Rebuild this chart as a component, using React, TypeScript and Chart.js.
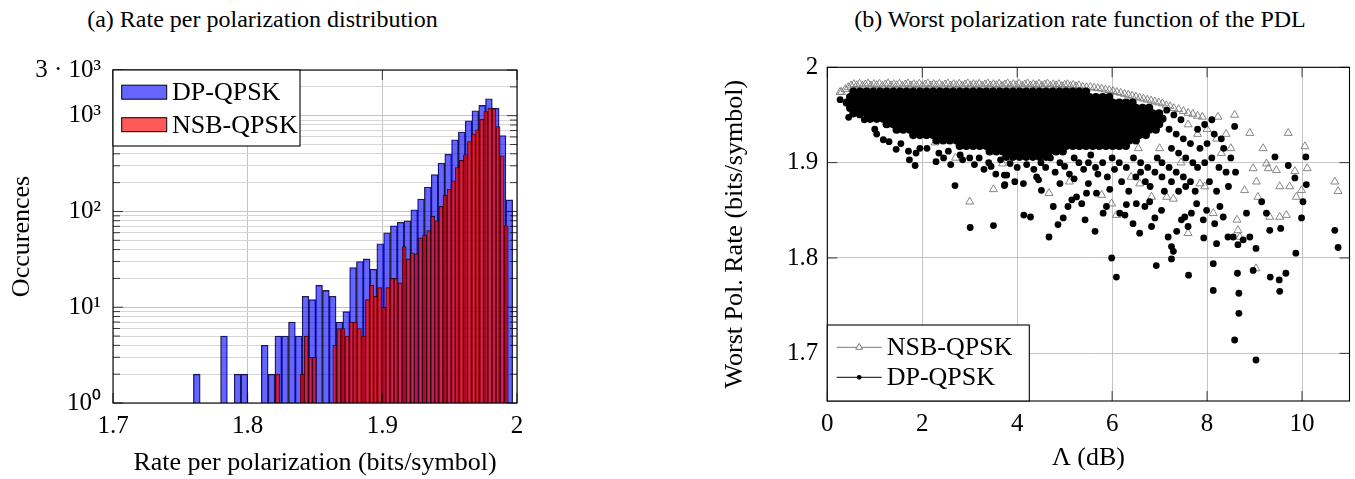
import React, { useEffect, useRef } from "react";
import { Chart, registerables } from "chart.js";

Chart.register(...registerables);

const SERIF = "'Liberation Serif', 'Times New Roman', Times, serif";

// ---------------- (a) histogram data ----------------
const HIST_TITLE = "(a) Rate per polarization distribution";
const HIST_X_TITLE = "Rate per polarization (bits/symbol)";
const HIST_Y_TITLE = "Occurences";
const HIST_X_TICKS = [1.7, 1.8, 1.9, 2];
const HIST_X_LABELS = ["1.7", "1.8", "1.9", "2"];
const HIST_Y_MAJOR = [1, 10, 100, 1000, 3000];
const HIST_Y_LABELS = ["10⁰", "10¹", "10²", "10³", "3 · 10³"];
const HIST_Y_MINOR = [2, 3, 4, 5, 6, 7, 8, 9, 20, 30, 40, 50, 60, 70, 80, 90, 200, 300, 400, 500, 600, 700, 800, 900, 2000];

const DP_NAME = "DP-QPSK";
const NSB_NAME = "NSB-QPSK";

const DP_BIN_START = 1.7597;
const DP_BIN_WIDTH = 0.005045;
const DP_COUNTS = [2, null, null, null, 5, null, 2, 2, null, null, 4, 2, 5, 5, 7, 5, 13, 12, 17, 15, 13, 7, 9, 26, 30, 32, 25, 46, 60, 71, 77, 80, 104, 135, 180, 243, 320, 397, 560, 675, 885, 1125, 1280, 1500, 1200, 621, 132];

const NSB_BIN_START = 1.8208;
const NSB_BIN_WIDTH = 0.00303;
const NSB_COUNTS = [2, null, null, null, null, null, 2, 5, 3, 3, null, null, null, null, 4, 6, 6, 5, 7, 7, 6, 5, 12, 17, 13, 16, 10, 16, 20, 20, 18, 43, 32, 37, 36, 53, 57, 63, 89, 80, 113, 148, 171, 209, 288, 341, 391, 538, 643, 713, 921, 1106, 1200, 1180, 771, 381, 71];

// ---------------- (b) scatter data ----------------
const SC_TITLE = "(b) Worst polarization rate function of the PDL";
const SC_X_TITLE = "Λ (dB)";
const SC_Y_TITLE = "Worst Pol. Rate (bits/symbol)";
const SC_X_TICKS = [0, 2, 4, 6, 8, 10];
const SC_X_LABELS = ["0", "2", "4", "6", "8", "10"];
const SC_Y_TICKS = [1.7, 1.8, 1.9, 2];
const SC_Y_LABELS = ["1.7", "1.8", "1.9", "2"];

// dense core of DP-QPSK points, one row per rate level
const DP_CORE_Y = [1.9745, 1.9688, 1.9631, 1.9574, 1.9517, 1.946, 1.9403, 1.9346, 1.9289, 1.9232, 1.9175, 1.9118, 1.9061];
const DP_CORE_X = [
  [0.55, 0.69, 0.83, 0.97, 1.11, 1.25, 1.39, 1.53, 1.67, 1.81, 1.95, 2.09, 2.23, 2.37, 2.51, 2.65, 2.79, 2.93, 3.07, 3.21, 3.35, 3.49, 3.63, 3.77, 3.91, 4.05, 4.19, 4.33, 4.47, 4.61, 4.75, 4.89, 5.03, 5.17, 5.31, 5.45],
  [0.48, 0.62, 0.76, 0.9, 1.04, 1.18, 1.32, 1.46, 1.6, 1.74, 1.88, 2.02, 2.16, 2.3, 2.44, 2.58, 2.72, 2.86, 3, 3.14, 3.28, 3.42, 3.56, 3.7, 3.84, 3.98, 4.12, 4.26, 4.4, 4.54, 4.68, 4.82, 4.96, 5.1, 5.24, 5.38, 5.52, 5.66, 5.8, 5.94],
  [0.41, 0.55, 0.69, 0.83, 0.97, 1.11, 1.25, 1.39, 1.53, 1.67, 1.81, 1.95, 2.09, 2.23, 2.37, 2.51, 2.65, 2.79, 2.93, 3.07, 3.21, 3.35, 3.49, 3.63, 3.77, 3.91, 4.05, 4.19, 4.33, 4.47, 4.61, 4.75, 4.89, 5.03, 5.17, 5.31, 5.45, 5.59, 5.73, 5.87, 6.01, 6.15, 6.29, 6.43],
  [0.48, 0.62, 0.76, 0.9, 1.04, 1.18, 1.32, 1.46, 1.6, 1.74, 1.88, 2.02, 2.16, 2.3, 2.44, 2.58, 2.72, 2.86, 3, 3.14, 3.28, 3.42, 3.56, 3.7, 3.84, 3.98, 4.12, 4.26, 4.4, 4.54, 4.68, 4.82, 4.96, 5.1, 5.24, 5.38, 5.52, 5.66, 5.8, 5.94, 6.08, 6.22, 6.36, 6.5, 6.64, 6.78],
  [0.55, 0.69, 0.83, 0.97, 1.11, 1.25, 1.39, 1.53, 1.67, 1.81, 1.95, 2.09, 2.23, 2.37, 2.51, 2.65, 2.79, 2.93, 3.07, 3.21, 3.35, 3.49, 3.63, 3.77, 3.91, 4.05, 4.19, 4.33, 4.47, 4.61, 4.75, 4.89, 5.03, 5.17, 5.31, 5.45, 5.59, 5.73, 5.87, 6.01, 6.15, 6.29, 6.43, 6.57, 6.71, 6.85, 6.99],
  [0.9, 1.04, 1.18, 1.32, 1.46, 1.6, 1.74, 1.88, 2.02, 2.16, 2.3, 2.44, 2.58, 2.72, 2.86, 3, 3.14, 3.28, 3.42, 3.56, 3.7, 3.84, 3.98, 4.12, 4.26, 4.4, 4.54, 4.68, 4.82, 4.96, 5.1, 5.24, 5.38, 5.52, 5.66, 5.8, 5.94, 6.08, 6.22, 6.36, 6.5, 6.64, 6.78, 6.92, 7.06],
  [1.25, 1.39, 1.53, 1.67, 1.81, 1.95, 2.09, 2.23, 2.37, 2.51, 2.65, 2.79, 2.93, 3.07, 3.21, 3.35, 3.49, 3.63, 3.77, 3.91, 4.05, 4.19, 4.33, 4.47, 4.61, 4.75, 4.89, 5.03, 5.17, 5.31, 5.45, 5.59, 5.73, 5.87, 6.01, 6.15, 6.29, 6.43, 6.57, 6.71, 6.85, 6.99],
  [1.46, 1.6, 1.74, 1.88, 2.02, 2.16, 2.3, 2.44, 2.58, 2.72, 2.86, 3, 3.14, 3.28, 3.42, 3.56, 3.7, 3.84, 3.98, 4.12, 4.26, 4.4, 4.54, 4.68, 4.82, 4.96, 5.1, 5.24, 5.38, 5.52, 5.66, 5.8, 5.94, 6.08, 6.22, 6.36, 6.5, 6.64, 6.78, 6.92],
  [1.81, 1.95, 2.09, 2.23, 2.37, 2.51, 2.65, 2.79, 2.93, 3.07, 3.21, 3.35, 3.49, 3.63, 3.77, 3.91, 4.05, 4.19, 4.33, 4.47, 4.61, 4.75, 4.89, 5.03, 5.17, 5.31, 5.45, 5.59, 5.73, 5.87, 6.01, 6.15, 6.29, 6.43, 6.57, 6.71],
  [2.3, 2.44, 2.58, 2.72, 2.86, 3, 3.14, 3.28, 3.42, 3.56, 3.7, 3.84, 3.98, 4.12, 4.26, 4.4, 4.54, 4.68, 4.82, 4.96, 5.1, 5.24, 5.38, 5.52, 5.66, 5.8, 5.94, 6.08, 6.22, 6.36, 6.5],
  [2.79, 2.93, 3.07, 3.21, 3.35, 3.49, 3.63, 3.77, 3.91, 4.05, 4.19, 4.33, 4.47, 4.61, 4.75, 4.89, 5.03, 5.17, 5.31, 5.45, 5.59, 5.73, 5.87, 6.01, 6.15, 6.29],
  [3.42, 3.56, 3.7, 3.84, 3.98, 4.12, 4.26, 4.4, 4.54, 4.68, 4.82, 4.96],
  [3.77, 3.91, 4.05, 4.19, 4.33, 4.47, 4.61],
];

// scattered DP-QPSK points
const DP_SPARSE = [
  [0.27, 1.966], [0.45, 1.9475], [0.68, 1.95], [0.78, 1.945], [1.04, 1.93], [1.18, 1.924], [1.45, 1.914], [1.71, 1.912],
  [1.87, 1.91], [1.73, 1.903], [1.85, 1.897], [2.29, 1.901], [2.69, 1.876], [3.01, 1.832], [3.5, 1.834], [3.73, 1.887],
  [3.73, 1.876], [2.45, 1.905], [2.85, 1.903], [3.1, 1.898], [3.3, 1.893], [3.45, 1.896],
  [3.78, 1.887], [3.95, 1.88], [3.74, 1.877], [4.13, 1.878], [4.14, 1.845], [4.28, 1.843], [4.41, 1.885], [4.51, 1.871],
  [4.67, 1.822], [4.76, 1.854], [4.86, 1.835], [4.97, 1.842], [5.07, 1.854], [5.15, 1.861], [5.25, 1.864], [5.36, 1.857],
  [5.43, 1.84], [5.46, 1.868], [5.64, 1.828], [5.67, 1.868], [5.81, 1.847], [5.88, 1.854], [5.99, 1.8], [6.09, 1.78],
  [6.16, 1.847], [6.27, 1.845], [6.3, 1.856], [6.44, 1.836], [6.51, 1.857], [6.58, 1.826], [6.69, 1.854], [6.79, 1.859],
  [6.83, 1.833], [6.9, 1.842], [6.93, 1.792], [7.04, 1.85], [7.18, 1.822], [7.25, 1.812], [7.29, 1.807], [7.25, 1.799],
  [7.36, 1.828], [7.46, 1.84], [7.53, 1.843], [7.6, 1.833], [7.61, 1.782], [7.67, 1.847], [7.78, 1.857], [7.92, 1.84],
  [7.93, 1.821], [7.99, 1.85], [8.13, 1.766], [8.13, 1.794], [8.16, 1.836], [8.2, 1.815], [8.27, 1.854], [8.34, 1.843],
  [8.44, 1.822], [8.55, 1.822], [8.58, 1.938], [8.64, 1.784], [8.65, 1.814], [8.67, 1.763], [8.67, 1.742], [8.58, 1.714],
  [8.76, 1.819], [8.83, 1.847], [8.9, 1.822], [8.97, 1.787], [9.03, 1.81], [9.03, 1.693], [9.15, 1.859], [9.25, 1.847],
  [9.32, 1.829], [9.33, 1.78], [9.43, 1.906], [9.52, 1.777], [9.53, 1.765], [9.55, 1.831], [9.66, 1.784], [9.71, 1.897],
  [9.85, 1.884], [9.87, 1.805], [9.99, 1.842], [10.02, 1.859], [10.08, 1.906], [10.09, 1.877], [10.69, 1.829], [10.76, 1.811],
  [7.15, 1.955], [7.3, 1.95], [7.45, 1.945], [7.2, 1.935], [7.35, 1.93], [7.5, 1.925], [7.65, 1.92], [7.25, 1.915],
  [7.4, 1.91], [7.55, 1.905], [7.7, 1.9], [7.85, 1.915], [8.0, 1.92], [8.15, 1.93], [8.3, 1.925], [7.8, 1.935], [7.95, 1.94], [8.1, 1.945],
  [6.0, 1.905], [6.15, 1.9], [6.3, 1.895], [6.45, 1.905], [6.6, 1.9], [6.75, 1.895], [6.9, 1.89], [7.05, 1.9],
  [7.2, 1.895], [7.35, 1.89], [7.5, 1.885], [7.65, 1.88], [7.8, 1.895], [7.95, 1.9], [8.1, 1.905], [8.25, 1.895], [8.4, 1.89],
  [5.5, 1.9], [5.65, 1.895], [5.2, 1.905], [4.9, 1.9], [4.6, 1.895], [5.9, 1.885], [6.2, 1.88], [6.5, 1.885], [6.8, 1.875], [7.1, 1.87],
  [3.65, 1.903], [3.85, 1.899], [4.0, 1.895], [4.2, 1.898], [4.35, 1.893], [4.5, 1.9], [4.7, 1.905], [4.8, 1.89],
  [5.0, 1.896], [5.1, 1.888], [5.3, 1.9], [5.4, 1.893], [5.55, 1.908], [5.7, 1.888], [5.8, 1.9], [6.05, 1.893],
  [4.45, 1.882], [4.9, 1.878], [5.2, 1.883], [5.5, 1.878], [5.95, 1.872], [6.35, 1.87], [6.6, 1.89], [6.7, 1.88],
  [6.95, 1.905], [7.05, 1.885], [7.25, 1.88], [7.4, 1.87], [7.55, 1.875], [7.75, 1.87], [8.05, 1.88], [8.2, 1.87],
  [8.45, 1.875], [8.5, 1.905], [8.35, 1.915], [8.6, 1.89],
  [2.1, 1.915], [2.35, 1.91], [2.55, 1.912], [2.8, 1.908], [3.0, 1.905], [3.2, 1.905], [3.4, 1.9], [2.6, 1.898],
  [3.55, 1.888], [1.3, 1.922], [1.55, 1.92], [1.95, 1.915], [1.0, 1.935],
];

// NSB-QPSK points (upper edge of the cloud and scattered points)
const NSB_EDGE = [
  [0.5, 1.9808], [0.56, 1.9822], [0.62, 1.9811], [0.68, 1.9826], [0.74, 1.9805], [0.8, 1.9819], [0.86, 1.983], [0.92, 1.9808],
  [0.98, 1.9822], [1.04, 1.9811], [1.1, 1.9826], [1.16, 1.9805], [1.22, 1.9819], [1.28, 1.983], [1.34, 1.9808], [1.4, 1.9822],
  [1.46, 1.9811], [1.52, 1.9826], [1.58, 1.9805], [1.64, 1.9819], [1.7, 1.983], [1.76, 1.9808], [1.82, 1.9822], [1.88, 1.9811],
  [1.94, 1.9826], [2.0, 1.9805], [2.06, 1.9819], [2.12, 1.983], [2.18, 1.9808], [2.24, 1.9822], [2.3, 1.9811], [2.36, 1.9826],
  [2.42, 1.9805], [2.48, 1.9819], [2.54, 1.983], [2.6, 1.9808], [2.66, 1.9822], [2.72, 1.9811], [2.78, 1.9826], [2.84, 1.9805],
  [2.9, 1.9819], [2.96, 1.983], [3.02, 1.9808], [3.08, 1.9822], [3.14, 1.9811], [3.2, 1.9826], [3.26, 1.9805], [3.32, 1.9819],
  [3.38, 1.983], [3.44, 1.9808], [3.5, 1.9822], [3.56, 1.9811], [3.62, 1.9826], [3.68, 1.9805], [3.74, 1.9819], [3.8, 1.983],
  [3.86, 1.9808], [3.92, 1.9822], [3.98, 1.9811], [4.04, 1.9826], [4.1, 1.9805], [4.16, 1.9819], [4.22, 1.983], [4.28, 1.9808],
  [4.34, 1.9822], [4.4, 1.9811], [4.46, 1.9826], [4.52, 1.9805], [4.58, 1.9819], [4.64, 1.9828], [4.7, 1.9806], [4.76, 1.982],
  [4.82, 1.9809], [4.88, 1.9822], [4.94, 1.9803], [5.0, 1.9815], [5.06, 1.9822], [5.12, 1.9802], [5.18, 1.9814], [5.24, 1.98],
  [5.3, 1.981], [5.38, 1.9795], [5.46, 1.979], [5.54, 1.9792], [5.62, 1.9785], [5.7, 1.978], [5.78, 1.9775], [5.86, 1.9765],
  [5.94, 1.976], [6.02, 1.975], [6.1, 1.974], [6.18, 1.973], [6.26, 1.972], [6.34, 1.971], [6.42, 1.97], [6.5, 1.969],
  [6.58, 1.968], [6.66, 1.967], [6.74, 1.966], [6.82, 1.965], [6.9, 1.964], [6.98, 1.963], [7.06, 1.962], [7.14, 1.96],
  [7.22, 1.959], [7.3, 1.957], [7.4, 1.956], [7.5, 1.954], [7.6, 1.952], [7.7, 1.951], [7.8, 1.949], [7.9, 1.948],
  [0.3, 1.974], [0.38, 1.977], [0.44, 1.979],
];
const NSB_SPARSE = [
  [0.27, 1.974], [0.43, 1.962], [3.0, 1.859], [3.5, 1.872], [2.7, 1.905], [2.27, 1.921], [3.69, 1.899],
  [4.67, 1.868], [5.1, 1.88], [5.78, 1.866], [5.99, 1.857], [6.09, 1.845], [6.58, 1.878], [6.83, 1.864], [7.15, 1.864],
  [7.29, 1.862], [7.6, 1.826], [7.85, 1.878], [7.95, 1.875], [8.13, 1.847], [8.23, 1.948], [8.58, 1.95], [8.63, 1.84],
  [8.65, 1.829], [8.69, 1.822], [8.79, 1.871], [8.9, 1.931], [8.97, 1.894], [9.04, 1.88], [9.07, 1.864], [9.18, 1.915],
  [9.25, 1.899], [9.29, 1.894], [9.32, 1.843], [9.46, 1.892], [9.53, 1.875], [9.53, 1.843], [9.67, 1.845], [9.71, 1.931],
  [9.74, 1.875], [9.85, 1.891], [9.88, 1.864], [9.99, 1.871], [10.06, 1.917], [10.11, 1.894], [10.69, 1.88], [10.76, 1.87],
  [9.03, 1.789], [7.6, 1.94], [7.8, 1.93], [8.0, 1.935], [8.2, 1.925], [8.4, 1.93], [8.5, 1.915], [8.3, 1.91],
  [6.55, 1.915], [7.0, 1.915], [7.45, 1.9], [6.4, 1.885],
];

// ---------------- layout ----------------
const A_W = 540, A_H = 479;
const A_AREA = { left: 113, top: 70, right: 517, bottom: 403 };
const B_LEFT = 700, B_W = 655, B_H = 479;
const B_AREA = { left: 127.3, top: 67.3, right: 650, bottom: 401 };

const GRID_MAJOR = "#c4c4c4";
const GRID_MINOR = "#d6d6d6";

const frameTicks = {
  id: "frameTicks",
  afterDatasetsDraw(chart: any, _a: any, o: any) {
    const { ctx, chartArea: a } = chart;
    const xs = chart.scales.x, ys = chart.scales.y;
    ctx.save();
    ctx.strokeStyle = "rgba(0,0,0,0.75)";
    ctx.lineWidth = 1;
    const seg = (x1: number, y1: number, x2: number, y2: number) => {
      ctx.beginPath(); ctx.moveTo(x1, y1); ctx.lineTo(x2, y2); ctx.stroke();
    };
    const vx = (vals: number[], len: number) => vals.forEach((v) => {
      const p = xs.getPixelForValue(v);
      seg(p, a.bottom, p, a.bottom - len); seg(p, a.top, p, a.top + len);
    });
    const vy = (vals: number[], len: number) => vals.forEach((v) => {
      const p = ys.getPixelForValue(v);
      seg(a.left, p, a.left + len, p); seg(a.right, p, a.right - len, p);
    });
    vx(o.xMajor || [], o.majorLen); vy(o.yMajor || [], o.majorLen); vy(o.yMinor || [], o.minorLen);
    ctx.strokeStyle = "#000";
    ctx.lineWidth = 1.1;
    ctx.strokeRect(a.left, a.top, a.right - a.left, a.bottom - a.top);
    ctx.restore();
  },
};

const boxLegend = {
  id: "boxLegend",
  afterDraw(chart: any, _a: any, o: any) {
    const { ctx, chartArea: a } = chart;
    const x0 = a.left;
    const y0 = o.anchor === "top" ? a.top : a.bottom - o.height;
    ctx.save();
    ctx.fillStyle = "#fff";
    ctx.fillRect(x0, y0, o.width, o.height);
    ctx.strokeStyle = "#000";
    ctx.lineWidth = 1.1;
    ctx.strokeRect(x0, y0, o.width, o.height);
    ctx.font = `${o.fontSize}px ${SERIF}`;
    ctx.textBaseline = "middle";
    ctx.textAlign = "left";
    o.items.forEach((it: any, i: number) => {
      const cy = y0 + o.rowY[i];
      if (it.kind === "bar") {
        ctx.fillStyle = it.fill;
        ctx.fillRect(x0 + o.symX, cy - o.symH / 2, o.symW, o.symH);
        ctx.strokeStyle = "#000";
        ctx.lineWidth = 1;
        ctx.strokeRect(x0 + o.symX, cy - o.symH / 2, o.symW, o.symH);
      } else {
        ctx.strokeStyle = it.color;
        ctx.lineWidth = 1;
        ctx.beginPath(); ctx.moveTo(x0 + o.symX, cy); ctx.lineTo(x0 + o.symX + o.symW, cy); ctx.stroke();
        const mx = x0 + o.symX + o.symW / 2;
        if (it.kind === "triangle") {
          const r = it.r;
          ctx.fillStyle = "#fff";
          ctx.beginPath();
          ctx.moveTo(mx, cy - r);
          ctx.lineTo(mx + r * 0.866, cy + r / 2);
          ctx.lineTo(mx - r * 0.866, cy + r / 2);
          ctx.closePath(); ctx.fill(); ctx.stroke();
        } else {
          ctx.fillStyle = it.color;
          ctx.beginPath(); ctx.arc(mx, cy, it.r, 0, Math.PI * 2); ctx.fill();
        }
      }
      ctx.fillStyle = "#000";
      ctx.fillText(it.label, x0 + o.textX, cy + 1);
    });
    ctx.restore();
  },
};

const tickFont = { family: SERIF, size: 25 };
const titleFont = { family: SERIF, size: 26 };

function HistogramChart() {
  const ref = useRef<HTMLCanvasElement>(null);
  useEffect(() => {
    const pxPerUnit = (A_AREA.right - A_AREA.left) / (2.0 - 1.7);
    const dpData = DP_COUNTS.map((c, i) => ({ x: DP_BIN_START + (i + 0.5) * DP_BIN_WIDTH, y: c }));
    const nsbData = NSB_COUNTS.map((c, i) => ({ x: NSB_BIN_START + (i + 0.5) * NSB_BIN_WIDTH, y: c }));
    const allY = [...HIST_Y_MAJOR, ...HIST_Y_MINOR].sort((p, q) => p - q);
    const chart = new Chart(ref.current as HTMLCanvasElement, {
      type: "bar",
      data: {
        datasets: [
          {
            label: NSB_NAME, data: nsbData as any, backgroundColor: "rgba(255,0,0,0.65)",
            borderColor: "rgba(0,0,0,0.85)", borderWidth: 0.7, barThickness: NSB_BIN_WIDTH * pxPerUnit,
            grouped: false, borderSkipped: "start",
          } as any,
          {
            label: DP_NAME, data: dpData as any, backgroundColor: "rgba(0,0,255,0.6)",
            borderColor: "rgba(0,0,0,0.85)", borderWidth: 0.7, barThickness: DP_BIN_WIDTH * pxPerUnit,
            grouped: false, borderSkipped: "start",
          } as any,
        ],
      },
      options: {
        responsive: false,
        animation: false,
        events: [],
        layout: { padding: { left: 0, top: A_AREA.top, right: A_W - A_AREA.right, bottom: 0 } },
        plugins: {
          legend: { display: false },
          tooltip: { enabled: false },
          frameTicks: { xMajor: HIST_X_TICKS, yMajor: HIST_Y_MAJOR, yMinor: HIST_Y_MINOR, majorLen: 10, minorLen: 7 },
          boxLegend: {
            anchor: "top", width: 187, height: 76, fontSize: 26, symX: 8.7, symW: 45, symH: 14, textX: 59, rowY: [22.2, 54.7],
            items: [
              { kind: "bar", label: DP_NAME, fill: "rgba(0,0,255,0.6)" },
              { kind: "bar", label: NSB_NAME, fill: "rgba(255,0,0,0.65)" },
            ],
          },
        } as any,
        scales: {
          x: {
            type: "linear", min: 1.7, max: 2.0, offset: false,
            afterBuildTicks: (s: any) => { s.ticks = HIST_X_TICKS.map((v) => ({ value: v })); },
            afterFit: (s: any) => { s.height = A_H - A_AREA.bottom; s.paddingLeft = 0; s.paddingRight = 0; },
            ticks: {
              autoSkip: false, maxRotation: 0, padding: 8, color: "#000", font: tickFont,
              callback: (v: any) => { const i = HIST_X_TICKS.indexOf(v); return i >= 0 ? HIST_X_LABELS[i] : ""; },
            },
            grid: { offset: false, drawTicks: false, color: GRID_MAJOR, lineWidth: 1 },
            border: { display: false },
            title: { display: true, text: HIST_X_TITLE, color: "#000", font: titleFont, padding: { top: 0, bottom: 0.5 } },
          } as any,
          y: {
            type: "logarithmic", min: 1, max: 3000,
            afterBuildTicks: (s: any) => { s.ticks = allY.map((v) => ({ value: v })); },
            afterFit: (s: any) => { s.width = A_AREA.left; s.paddingTop = 0; s.paddingBottom = 0; },
            ticks: {
              autoSkip: false, padding: 12, color: "#000", font: tickFont,
              callback: (v: any) => { const i = HIST_Y_MAJOR.indexOf(v); return i >= 0 ? HIST_Y_LABELS[i] : ""; },
            },
            grid: {
              drawTicks: false, lineWidth: 1,
              color: (c: any) => (c.tick && HIST_Y_MAJOR.includes(c.tick.value) ? GRID_MAJOR : GRID_MINOR),
            },
            border: { display: false },
            title: { display: true, text: HIST_Y_TITLE, color: "#000", font: titleFont, padding: { top: 6.5, bottom: 0 } },
          } as any,
        },
      },
      plugins: [frameTicks, boxLegend],
    });
    return () => chart.destroy();
  }, []);
  return <canvas ref={ref} width={A_W} height={A_H} style={{ position: "absolute", left: 0, top: 0 }} />;
}

function ScatterChart() {
  const ref = useRef<HTMLCanvasElement>(null);
  useEffect(() => {
    const core: { x: number; y: number }[] = [];
    DP_CORE_Y.forEach((y, r) => DP_CORE_X[r].forEach((x) => core.push({ x, y })));
    const coreCount = core.length;
    const dpData = [...core, ...DP_SPARSE.map(([x, y]) => ({ x, y }))];
    const nsbData = [...NSB_EDGE, ...NSB_SPARSE].map(([x, y]) => ({ x, y }));
    const chart = new Chart(ref.current as HTMLCanvasElement, {
      type: "scatter",
      data: {
        datasets: [
          {
            label: DP_NAME, data: dpData, pointStyle: "circle",
            pointRadius: (c: any) => (c.dataIndex < coreCount ? 4.1 : 3.4),
            borderWidth: 0, backgroundColor: "#000", borderColor: "#000",
          } as any,
          {
            label: NSB_NAME, data: nsbData, pointStyle: "triangle", pointRadius: 4.6, borderWidth: 0.9,
            backgroundColor: "rgba(0,0,0,0)", borderColor: "#7a7a7a",
          },
        ],
      },
      options: {
        responsive: false,
        animation: false,
        events: [],
        layout: { padding: { left: 0, top: B_AREA.top, right: B_W - B_AREA.right, bottom: 0 } },
        plugins: {
          legend: { display: false },
          tooltip: { enabled: false },
          frameTicks: { xMajor: SC_X_TICKS, yMajor: SC_Y_TICKS, majorLen: 10 },
          boxLegend: {
            anchor: "bottom", width: 202, height: 76, fontSize: 26, symX: 9.4, symW: 45, symH: 0, textX: 59.4, rowY: [22.3, 52.3],
            items: [
              { kind: "triangle", label: NSB_NAME, color: "#7a7a7a", r: 4 },
              { kind: "dot", label: DP_NAME, color: "#000", r: 2.4 },
            ],
          },
        } as any,
        scales: {
          x: {
            type: "linear", min: 0, max: 11,
            afterBuildTicks: (s: any) => { s.ticks = SC_X_TICKS.map((v) => ({ value: v })); },
            afterFit: (s: any) => { s.height = B_H - B_AREA.bottom; s.paddingLeft = 0; s.paddingRight = 0; },
            ticks: {
              autoSkip: false, maxRotation: 0, padding: 8, color: "#000", font: tickFont,
              callback: (v: any) => { const i = SC_X_TICKS.indexOf(v); return i >= 0 ? SC_X_LABELS[i] : ""; },
            },
            grid: { drawTicks: false, color: GRID_MAJOR, lineWidth: 1 },
            border: { display: false },
            title: { display: true, text: SC_X_TITLE, color: "#000", font: titleFont, padding: { top: 0, bottom: 5 } },
          } as any,
          y: {
            type: "linear", min: 1.65, max: 2,
            afterBuildTicks: (s: any) => { s.ticks = SC_Y_TICKS.map((v) => ({ value: v })); },
            afterFit: (s: any) => { s.width = B_AREA.left; s.paddingTop = 0; s.paddingBottom = 0; },
            ticks: {
              autoSkip: false, padding: 9, color: "#000", font: tickFont,
              callback: (v: any) => { const i = SC_Y_TICKS.indexOf(v); return i >= 0 ? SC_Y_LABELS[i] : ""; },
            },
            grid: { drawTicks: false, color: GRID_MAJOR, lineWidth: 1 },
            border: { display: false },
            title: { display: true, text: SC_Y_TITLE, color: "#000", font: titleFont, padding: { top: 20, bottom: 0 } },
          } as any,
        },
      },
      plugins: [frameTicks, boxLegend],
    });
    return () => chart.destroy();
  }, []);
  return <canvas ref={ref} width={B_W} height={B_H} style={{ position: "absolute", left: B_LEFT, top: 0 }} />;
}

export default function App() {
  const sub = { position: "absolute" as const, top: 6, fontFamily: SERIF, fontSize: 24, lineHeight: "26px", textAlign: "center" as const, color: "#000", whiteSpace: "nowrap" as const };
  return (
    <div style={{ position: "absolute", left: 0, top: 0, width: 1355, height: 479, background: "#fff", overflow: "hidden" }}>
      <div style={{ ...sub, left: 0, width: 525 }}>{HIST_TITLE}</div>
      <div style={{ ...sub, left: 810, width: 540 }}>{SC_TITLE}</div>
      <HistogramChart />
      <ScatterChart />
    </div>
  );
}
